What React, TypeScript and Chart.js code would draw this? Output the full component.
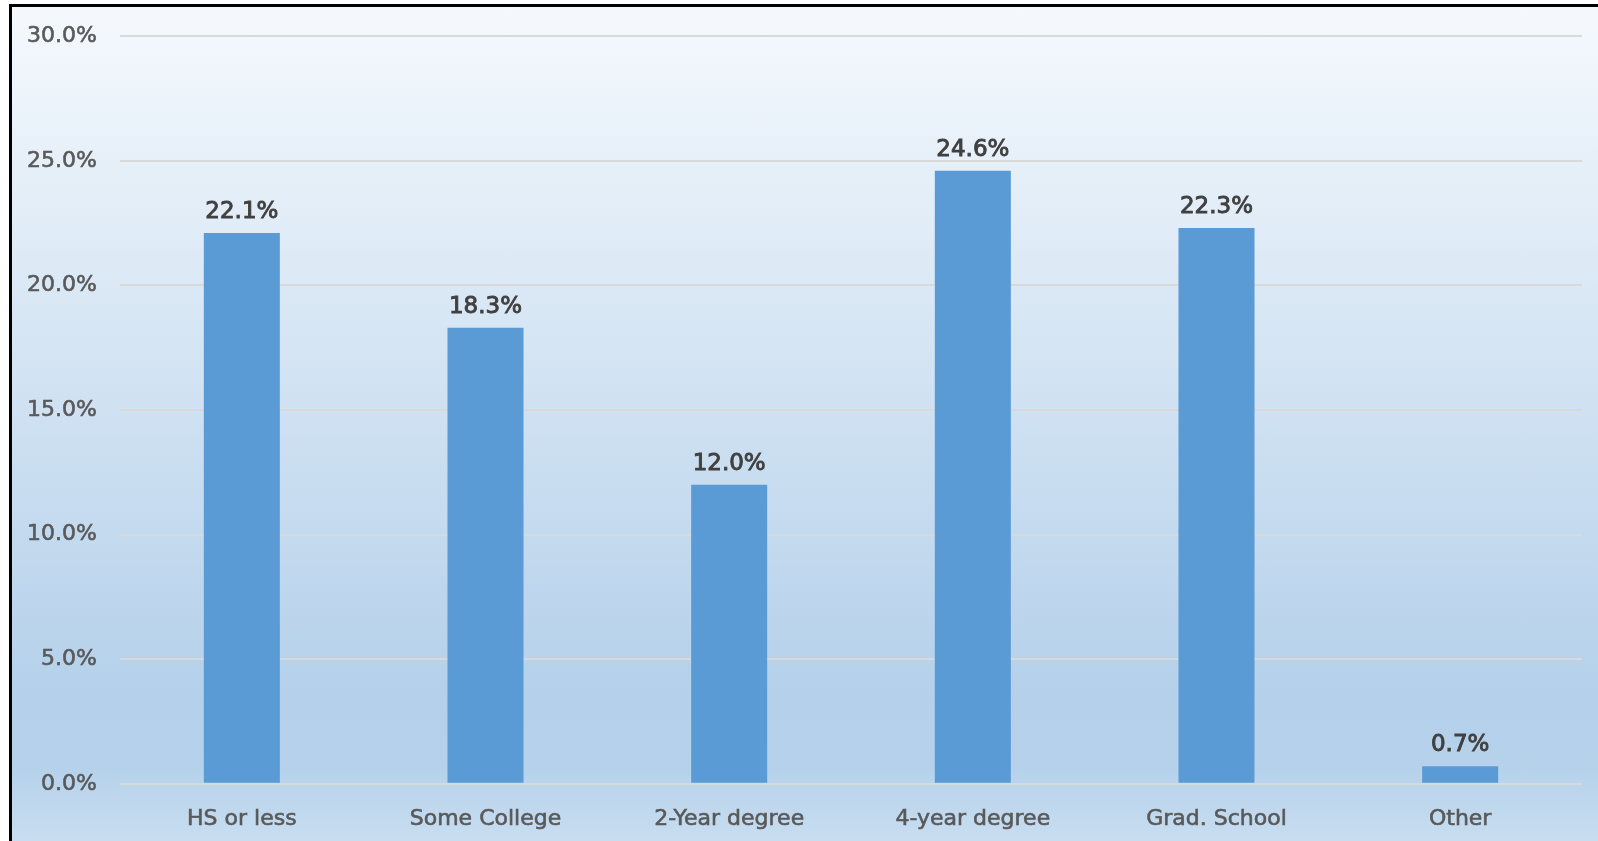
import React, { useEffect, useRef } from "react";
import { Chart, registerables } from "chart.js";

Chart.register(...registerables);

const categories = ["HS or less", "Some College", "2-Year degree", "4-year degree", "Grad. School", "Other"];
const values = [22.1, 18.3, 12.0, 24.6, 22.3, 0.7];
const yTicks = [0, 5, 10, 15, 20, 25, 30];

const FONT = "'DejaVu Sans', sans-serif";

const dataLabelPlugin = {
  id: "dataLabels",
  afterDatasetsDraw(chart: any) {
    const ctx = chart.ctx;
    const meta = chart.getDatasetMeta(0);
    ctx.save();
    ctx.font = `23px ${FONT}`;
    ctx.fillStyle = "#404040";
    ctx.strokeStyle = "#404040";
    ctx.lineWidth = 0.9;
    ctx.textAlign = "center";
    ctx.textBaseline = "alphabetic";
    meta.data.forEach((bar: any, i: number) => {
      const text = values[i].toFixed(1) + "%";
      ctx.fillText(text, bar.x, bar.y - 15);
      ctx.strokeText(text, bar.x, bar.y - 15);
    });
    ctx.restore();
  },
};

export default function App() {
  const ref = useRef<HTMLCanvasElement>(null);
  useEffect(() => {
    if (!ref.current) return;
    const chart = new Chart(ref.current, {
      type: "bar",
      data: {
        labels: categories,
        datasets: [
          {
            data: values,
            backgroundColor: "#5b9bd5",
            borderWidth: 0,
            categoryPercentage: 1,
            barPercentage: 0.312,
          },
        ],
      },
      options: {
        responsive: false,
        animation: false,
        layout: { padding: { top: 34.7, right: 16, bottom: 0, left: 0 } },
        plugins: {
          legend: { display: false },
          tooltip: { enabled: false },
        },
        scales: {
          x: {
            grid: { display: false, drawTicks: false },
            border: { display: false },
            ticks: {
              padding: 22,
              color: "#595959",
              textStrokeColor: "#595959",
              textStrokeWidth: 0.6,
              font: { family: FONT, size: 22 },
              maxRotation: 0,
            },
            afterFit: (axis: any) => {
              axis.height = 57.2;
            },
          },
          y: {
            min: 0,
            max: 30,
            afterBuildTicks: (axis: any) => {
              axis.ticks = yTicks.map((v) => ({ value: v }));
            },
            grid: { color: "#d9d9d9", lineWidth: 2, drawTicks: false },
            border: { display: false },
            ticks: {
              padding: 23,
              color: "#595959",
              textStrokeColor: "#595959",
              textStrokeWidth: 0.6,
              font: { family: FONT, size: 22 },
              callback: (v: any) => Number(v).toFixed(1) + "%",
            },
            afterFit: (axis: any) => {
              axis.width = 120;
            },
          },
        },
      },
      plugins: [dataLabelPlugin],
    });
    return () => chart.destroy();
  }, []);

  return (
    <div
      style={{
        position: "fixed",
        left: 0,
        top: 0,
        width: 1598,
        height: 841,
        background: "#ffffff",
        overflow: "hidden",
      }}
    >
      <div
        style={{
          position: "absolute",
          left: 9,
          top: 4,
          width: 1620,
          height: 860,
          borderLeft: "3px solid #000",
          borderTop: "3px solid #000",
          background:
            "linear-gradient(to bottom, #f5f9fd 0px, #b4d0ea 693px, #b6d2eb 763px, #c8ddf0 834px, #d0e2f3 860px)",
        }}
      />
      <canvas
        ref={ref}
        width={1598}
        height={841}
        style={{ position: "absolute", left: 0, top: 0, width: 1598, height: 841 }}
      />
    </div>
  );
}
